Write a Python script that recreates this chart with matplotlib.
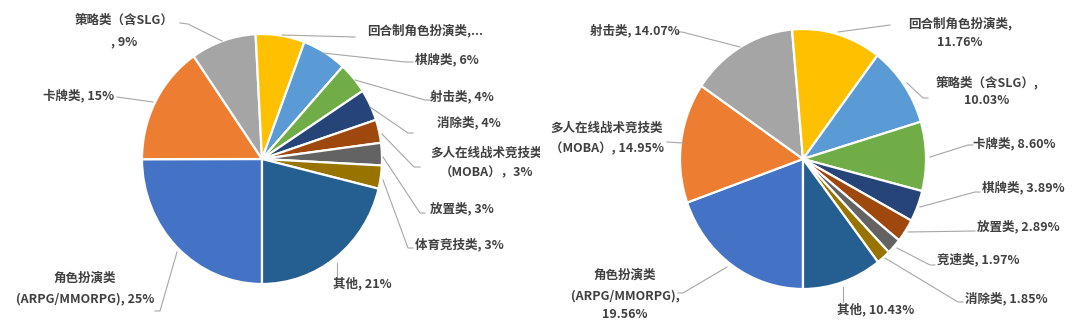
import matplotlib
matplotlib.use('Agg')
import matplotlib.pyplot as plt

# ---------------- data ----------------
left_categories = ['角色扮演类', '卡牌类', '策略类（含SLG）', '回合制角色扮演类', '棋牌类', '射击类',
                   '消除类', '多人在线战术竞技类（MOBA）', '放置类', '体育竞技类', '其他']
left_values = [25.0, 15.4, 8.8, 6.6, 6.0, 4.1, 4.1, 3.0, 2.9, 3.0, 21.2]
left_label_text = [
    ['角色扮演类', '(ARPG/MMORPG), 25%'],
    ['卡牌类, 15%'],
    ['策略类（含SLG）', ', 9%'],
    ['回合制角色扮演类,...'],
    ['棋牌类, 6%'],
    ['射击类, 4%'],
    ['消除类, 4%'],
    ['多人在线战术竞技类', '（MOBA），3%'],
    ['放置类, 3%'],
    ['体育竞技类, 3%'],
    ['其他, 21%'],
]

right_categories = ['角色扮演类', '多人在线战术竞技类（MOBA）', '射击类', '回合制角色扮演类', '策略类（含SLG）',
                    '卡牌类', '棋牌类', '放置类', '竞速类', '消除类', '其他']
right_values = [19.56, 14.95, 14.07, 11.76, 10.03, 8.60, 3.89, 2.89, 1.97, 1.85, 10.43]
right_label_text = [
    ['角色扮演类', '(ARPG/MMORPG),', '19.56%'],
    ['多人在线战术竞技类', '（MOBA）, 14.95%'],
    ['射击类, 14.07%'],
    ['回合制角色扮演类,', '11.76%'],
    ['策略类（含SLG）,', '10.03%'],
    ['卡牌类, 8.60%'],
    ['棋牌类, 3.89%'],
    ['放置类, 2.89%'],
    ['竞速类, 1.97%'],
    ['消除类, 1.85%'],
    ['其他, 10.43%'],
]

palette = ['#4472C4', '#ED7D31', '#A5A5A5', '#FFC000', '#5B9BD5', '#70AD47',
           '#264478', '#9E480E', '#636363', '#997300', '#255E91']

# ---------------- layout (pixel positions in the image) ----------------
W, H = 1085, 322
TEXT_COLOR = '#404040'
LINE_COLOR = '#A6A6A6'
FS = 9

left_layout = [
    dict(x=85, ys=[278, 299], ha='center', lead=[(177, 252), (160, 311), (155, 311)]),
    dict(x=79, ys=[96], ha='center', lead=[(153, 102), (117, 97)]),
    dict(x=124, ys=[20, 42], ha='center', lead=[(222, 41), (188, 24), (180, 23)]),
    dict(x=367, ys=[30], ha='left', lead=[(282, 35), (355, 37)]),
    dict(x=415, ys=[59], ha='left', lead=[(323, 53), (405, 62), (413, 62)]),
    dict(x=430, ys=[96], ha='left', lead=[(355, 80), (425, 100), (430, 100)]),
    dict(x=437, ys=[123], ha='left', lead=[(370, 107), (408, 133), (413, 133)]),
    dict(x=487, ys=[153, 173], ha='center', lead=[(382, 134), (414, 167), (420, 167)]),
    dict(x=430, ys=[209], ha='left', lead=[(383, 157), (420, 213), (425, 213)]),
    dict(x=415, ys=[245], ha='left', lead=[(383, 180), (408, 248), (413, 248)]),
    dict(x=333, ys=[284], ha='left', lead=[(337, 263), (337, 278)]),
]

right_layout = [
    dict(x=625, ys=[275, 296, 315], ha='center', lead=[(727, 267), (683, 293), (678, 293)]),
    dict(x=607, ys=[128, 149], ha='center', lead=[(683, 143), (667, 142)]),
    dict(x=635, ys=[30], ha='center', lead=[(740, 47), (682, 32), (677, 32)]),
    dict(x=960, ys=[23, 42], ha='center', lead=[(838, 32), (890, 25)]),
    dict(x=987, ys=[82, 101], ha='center', lead=[(907, 83), (923, 98), (928, 98)]),
    dict(x=973, ys=[143], ha='left', lead=[(930, 157), (968, 145), (973, 145)]),
    dict(x=982, ys=[188], ha='left', lead=[(920, 207), (975, 192), (980, 192)]),
    dict(x=977, ys=[227], ha='left', lead=[(908, 232), (975, 231)]),
    dict(x=937, ys=[260], ha='left', lead=[(897, 248), (930, 265), (935, 265)]),
    dict(x=965, ys=[299], ha='left', lead=[(885, 258), (958, 302), (963, 302)]),
    dict(x=837, ys=[310], ha='left', lead=[(843, 287), (843, 302)]),
]

plt.rcParams['font.family'] = ['Noto Sans CJK SC', 'DejaVu Sans']

fig = plt.figure(figsize=(W / 100, H / 100), dpi=100)
fig.patch.set_facecolor('white')


def draw_panel(x0, width, cx, cy, rx, ry, values, texts, layout):
    ax = fig.add_axes([x0 / W, 0, width / W, 1])
    ax.pie(values, colors=palette[:len(values)], startangle=270, counterclock=False,
           radius=1, center=(0, 0),
           wedgeprops=dict(edgecolor='white', linewidth=1.6))
    ax.set_aspect('auto')
    ax.set_xlim((0 - cx) / rx, (width - cx) / rx)
    ax.set_ylim((cy - H) / ry, cy / ry)
    ax.axis('off')

    def to_data(gx, gy):
        return (gx - x0 - cx) / rx, (cy - gy) / ry

    for lines, lay in zip(texts, layout):
        pts = [to_data(px, py) for px, py in lay['lead']]
        ax.plot([p[0] for p in pts], [p[1] for p in pts], color=LINE_COLOR,
                lw=0.8, zorder=3, clip_on=True)
        for s, gy in zip(lines, lay['ys']):
            tx, ty = to_data(lay['x'], gy)
            ax.text(tx, ty, s, ha=lay['ha'], va='center', fontsize=FS,
                    fontweight='bold', color=TEXT_COLOR, clip_on=True, zorder=4)
    return ax


draw_panel(0, 540, 262, 159, 120, 125, left_values, left_label_text, left_layout)
draw_panel(540, 545, 263, 159, 123, 130, right_values, right_label_text, right_layout)

fig.savefig('out.png', dpi=100, facecolor='white')
